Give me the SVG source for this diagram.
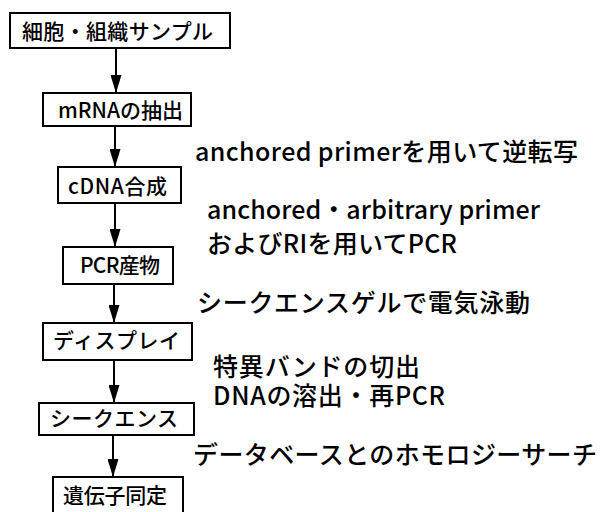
<svg xmlns="http://www.w3.org/2000/svg" width="609" height="512" viewBox="0 0 609 512">
<style>
.box{fill:#fff;stroke:#000;stroke-width:2}
.bt{font-family:"Noto Sans CJK JP","Noto Sans",sans-serif;font-size:21px;font-weight:500;fill:#000}
.lb{font-family:"Noto Sans CJK JP","Noto Sans",sans-serif;font-size:25px;font-weight:500;fill:#000}
.cn{stroke:#000;stroke-width:2;fill:none;marker-end:url(#ah)}
</style>
<defs>
<marker id="ah" markerUnits="userSpaceOnUse" markerWidth="18" markerHeight="11" viewBox="0 0 18 11" refX="18" refY="5.5" orient="auto">
<path d="M0,0 L18,5.5 L0,11 z" fill="#000"/>
</marker>
</defs>
<rect width="609" height="512" fill="#fff"/>
<g id="connectors">
<line class="cn" x1="116" y1="48" x2="116" y2="93"/>
<line class="cn" x1="115" y1="126" x2="115" y2="167"/>
<line class="cn" x1="115" y1="203" x2="115" y2="247"/>
<line class="cn" x1="114" y1="284" x2="114" y2="323"/>
<line class="cn" x1="114" y1="360" x2="114" y2="403"/>
<line class="cn" x1="113" y1="435" x2="113" y2="477"/>
</g>
<g id="n1"><rect class="box" x="10" y="13" width="220" height="35"/><text class="bt" x="22" y="39" textLength="191" lengthAdjust="spacing">細胞・組織サンプル</text></g>
<g id="n2"><rect class="box" x="43" y="93" width="148" height="33"/><text class="bt" x="58" y="118" textLength="125" lengthAdjust="spacing">mRNAの抽出</text></g>
<g id="n3"><rect class="box" x="58" y="167" width="123" height="36"/><text class="bt" x="68" y="194" textLength="99" lengthAdjust="spacing">cDNA合成</text></g>
<g id="n4"><rect class="box" x="63" y="247" width="110" height="37"/><text class="bt" x="80" y="273" textLength="80" lengthAdjust="spacing">PCR産物</text></g>
<g id="n5"><rect class="box" x="43" y="323" width="149" height="37"/><text class="bt" x="53" y="348" textLength="127" lengthAdjust="spacing">ディスプレイ</text></g>
<g id="n6"><rect class="box" x="39" y="403" width="155" height="32"/><text class="bt" x="50" y="426" textLength="128" lengthAdjust="spacing">シークエンス</text></g>
<g id="n7"><rect class="box" x="53" y="477" width="130" height="37"/><text class="bt" x="63" y="503" textLength="104" lengthAdjust="spacing">遺伝子同定</text></g>
<g id="labels">
<text class="lb" x="195" y="161" textLength="383" lengthAdjust="spacing">anchored primerを用いて逆転写</text>
<text class="lb" x="207" y="219" textLength="333" lengthAdjust="spacing">anchored・arbitrary primer</text>
<text class="lb" x="207" y="253" textLength="250" lengthAdjust="spacing">およびRIを用いてPCR</text>
<text class="lb" x="197" y="312" textLength="333" lengthAdjust="spacing">シークエンスゲルで電気泳動</text>
<text class="lb" x="213" y="376" textLength="207" lengthAdjust="spacing">特異バンドの切出</text>
<text class="lb" x="213" y="405" textLength="232" lengthAdjust="spacing">DNAの溶出・再PCR</text>
<text class="lb" x="193" y="464" textLength="404" lengthAdjust="spacing">データベースとのホモロジーサーチ</text>
</g>
</svg>
